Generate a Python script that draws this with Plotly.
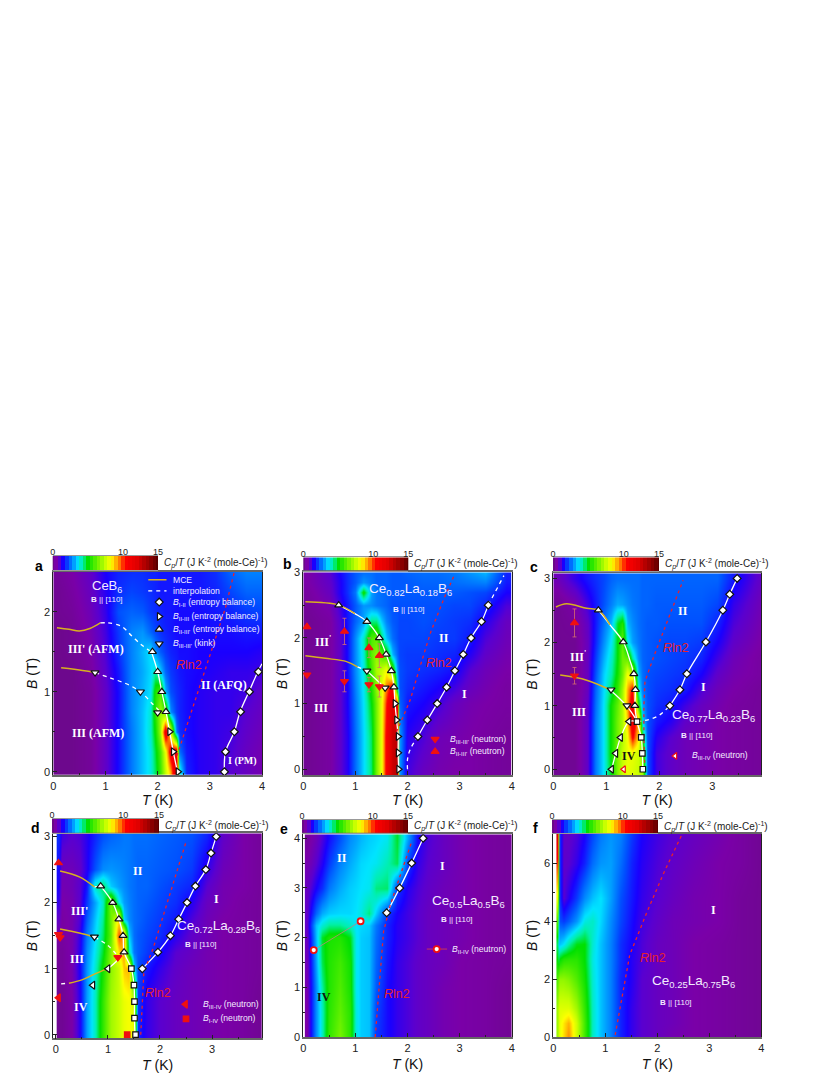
import plotly.graph_objects as go

# colour scale of the C_p/T maps (value, colour)
color_stops = [(0, '#6a0a86'), (0.5, '#7a00a8'), (1, '#5a00d0'), (1.5, '#1a00ff'), (2.2, '#0050ff'),
               (3, '#00a0ff'), (3.6, '#00e4ff'), (4.2, '#00f0a8'), (5, '#00e000'), (6.2, '#60f000'),
               (7.5, '#c8ff00'), (8.3, '#ffff00'), (9, '#ffb000'), (9.7, '#ff6000'), (10.3, '#ff0000'),
               (12, '#e00000'), (13.5, '#a00000'), (15, '#5a0000')]
cbar_levels = [0, 0.5, 1, 1.5, 2, 2.5, 3, 3.5, 4, 4.5, 5, 5.5, 6, 6.5, 7, 7.5, 8, 8.5, 9, 9.5, 10,
               10.5, 11, 11.5, 12, 12.5, 13, 13.5, 14, 14.5, 15]

# panel a: CeB6
T_a = [0.07, 0.35, 0.7, 1.0, 1.25, 1.5, 1.7, 1.85, 1.95, 2.05, 2.15, 2.25, 2.35, 2.42, 2.55, 2.8, 3.1, 3.4, 3.7, 3.98]
B_a = [0, 0.25, 0.5, 0.75, 1, 1.25, 1.5, 1.75, 2, 2.25, 2.5]
Z_a = [
    [0.1, 0.1, 0.3, 0.9, 1.6, 2.6, 3.3, 3.8, 4.6, 5.8, 7.5, 9.0, 12.5, 4.0, 1.8, 1.4, 1.3, 1.0, 0.8, 0.6],
    [0.1, 0.1, 0.3, 0.9, 1.6, 2.6, 3.3, 3.8, 4.8, 6.0, 8.0, 11.0, 11.5, 2.5, 1.7, 1.4, 1.3, 1.1, 0.8, 0.6],
    [0.1, 0.1, 0.3, 0.9, 1.6, 2.6, 3.3, 4.0, 5.2, 7.0, 11.5, 8.0, 2.6, 1.9, 1.6, 1.4, 1.3, 1.2, 0.9, 0.7],
    [0.1, 0.1, 0.3, 0.9, 1.6, 2.7, 3.3, 3.9, 5.6, 7.0, 6.2, 2.8, 2.0, 1.8, 1.6, 1.4, 1.3, 1.3, 1.0, 0.8],
    [0.1, 0.1, 0.3, 0.9, 1.6, 2.7, 3.2, 3.6, 5.4, 6.0, 3.2, 2.2, 1.9, 1.8, 1.6, 1.4, 1.3, 1.3, 1.2, 0.9],
    [0.1, 0.1, 0.4, 1.0, 1.7, 2.7, 3.1, 3.5, 4.2, 3.4, 2.4, 2.0, 1.8, 1.7, 1.6, 1.5, 1.4, 1.3, 1.3, 1.2],
    [0.1, 0.2, 0.5, 1.1, 1.9, 2.7, 3.2, 3.6, 2.8, 2.3, 2.0, 1.8, 1.7, 1.6, 1.6, 1.5, 1.5, 1.5, 1.5, 1.4],
    [0.1, 0.2, 0.6, 1.2, 2.0, 2.7, 2.9, 2.4, 2.1, 1.9, 1.8, 1.7, 1.6, 1.6, 1.6, 1.6, 1.6, 1.6, 1.7, 1.7],
    [0.2, 0.3, 0.7, 1.3, 2.2, 2.4, 2.3, 2.0, 1.9, 1.8, 1.7, 1.7, 1.6, 1.6, 1.6, 1.6, 1.7, 1.8, 2.0, 2.1],
    [0.2, 0.4, 0.8, 1.4, 1.9, 2.1, 2.0, 1.9, 1.8, 1.7, 1.7, 1.7, 1.7, 1.7, 1.7, 1.7, 1.8, 2.1, 2.4, 2.4],
    [0.3, 0.5, 0.9, 1.5, 1.8, 1.9, 1.9, 1.8, 1.8, 1.7, 1.7, 1.7, 1.7, 1.7, 1.7, 1.7, 1.9, 2.4, 2.7, 2.7],
]

# panel b: Ce0.82La0.18B6
T_b = [0.1, 0.5, 0.7, 0.85, 1.0, 1.15, 1.3, 1.4, 1.5, 1.6, 1.7, 1.8, 1.85, 2.0, 2.3, 2.6, 2.9, 3.2, 3.5, 3.9]
B_b = [0, 0.5, 1, 1.25, 1.5, 1.75, 2, 2.25, 2.5, 2.7, 2.85, 3]
Z_b = [
    [0.2, 0.4, 0.9, 1.4, 2.5, 3.5, 4.5, 6.5, 8.0, 10.8, 12.5, 13.0, 3.0, 1.2, 0.8, 0.6, 0.5, 0.5, 0.4, 0.3],
    [0.2, 0.4, 0.9, 1.4, 2.5, 3.5, 4.6, 6.5, 8.0, 10.8, 12.5, 13.0, 3.0, 1.4, 1.1, 0.7, 0.6, 0.5, 0.4, 0.3],
    [0.2, 0.4, 0.9, 1.5, 2.6, 3.6, 5.0, 6.5, 8.0, 10.2, 12.0, 10.0, 2.4, 1.7, 1.5, 1.2, 0.8, 0.6, 0.5, 0.4],
    [0.2, 0.4, 0.9, 1.5, 2.7, 3.7, 5.4, 6.8, 7.8, 9.5, 11.0, 3.5, 2.2, 1.9, 1.7, 1.5, 1.2, 0.8, 0.6, 0.4],
    [0.2, 0.4, 0.9, 1.6, 2.8, 3.8, 5.8, 7.2, 7.5, 8.2, 6.0, 2.8, 2.2, 2.0, 1.9, 1.8, 1.6, 1.0, 0.7, 0.5],
    [0.2, 0.4, 0.9, 1.6, 2.8, 3.9, 6.2, 6.8, 6.0, 5.5, 3.2, 2.4, 2.1, 2.0, 2.0, 1.9, 1.8, 1.4, 0.9, 0.6],
    [0.2, 0.4, 0.9, 1.6, 2.8, 4.0, 6.0, 6.2, 4.5, 3.3, 2.5, 2.2, 2.1, 2.1, 2.1, 2.0, 2.0, 1.7, 1.1, 0.7],
    [0.2, 0.4, 1.0, 1.7, 2.4, 3.0, 4.4, 4.4, 3.4, 2.7, 2.3, 2.2, 2.1, 2.1, 2.2, 2.1, 2.0, 1.9, 1.4, 0.8],
    [0.3, 0.6, 1.2, 1.7, 2.3, 2.9, 2.8, 2.6, 2.5, 2.4, 2.2, 2.2, 2.2, 2.2, 2.2, 2.2, 2.1, 2.1, 1.8, 1.1],
    [0.4, 0.8, 1.4, 1.9, 2.6, 5.2, 3.0, 2.6, 2.5, 2.4, 2.3, 2.3, 2.3, 2.3, 2.3, 2.3, 2.3, 2.2, 2.1, 1.5],
    [0.5, 0.9, 1.4, 1.9, 2.3, 2.9, 2.6, 2.4, 2.4, 2.4, 2.3, 2.3, 2.3, 2.3, 2.4, 2.4, 2.5, 2.6, 2.7, 1.7],
    [0.5, 1.0, 1.5, 1.9, 2.3, 2.5, 2.5, 2.4, 2.4, 2.4, 2.3, 2.3, 2.3, 2.4, 2.5, 2.5, 2.6, 2.9, 3.2, 1.8],
]

# panel c: Ce0.77La0.23B6
T_c = [0.07, 0.4, 0.65, 0.8, 0.95, 1.1, 1.2, 1.3, 1.4, 1.5, 1.6, 1.68, 1.78, 1.95, 2.2, 2.5, 2.8, 3.1, 3.4, 3.88]
B_c = [0, 0.25, 0.5, 0.75, 1, 1.25, 1.5, 1.75, 2, 2.3, 2.6, 3]
Z_c = [
    [0.2, 0.2, 0.9, 2.6, 3.6, 5.0, 6.6, 7.5, 8.0, 7.8, 7.5, 7.0, 2.2, 1.2, 0.9, 0.7, 0.6, 0.5, 0.4, 0.3],
    [0.2, 0.2, 0.9, 2.6, 3.6, 5.2, 6.6, 7.5, 8.0, 8.0, 7.6, 6.5, 2.2, 1.2, 0.9, 0.7, 0.6, 0.5, 0.4, 0.3],
    [0.2, 0.2, 0.9, 2.6, 3.6, 5.2, 6.4, 7.2, 8.2, 10.5, 8.5, 5.0, 2.2, 1.4, 1.0, 0.7, 0.6, 0.5, 0.4, 0.3],
    [0.2, 0.2, 0.9, 2.6, 3.6, 5.2, 6.4, 7.2, 8.8, 11.5, 9.0, 3.5, 2.2, 1.7, 1.4, 0.9, 0.7, 0.5, 0.4, 0.3],
    [0.2, 0.2, 0.9, 2.5, 3.6, 5.2, 6.2, 7.2, 9.2, 11.5, 5.5, 3.0, 2.2, 1.9, 1.7, 1.2, 0.8, 0.6, 0.4, 0.3],
    [0.2, 0.2, 0.8, 2.4, 3.5, 4.6, 5.6, 7.0, 9.0, 10.5, 3.8, 2.6, 2.2, 2.0, 1.9, 1.7, 1.1, 0.7, 0.5, 0.3],
    [0.2, 0.2, 0.8, 2.2, 3.4, 4.2, 5.2, 6.4, 8.2, 7.5, 3.2, 2.5, 2.2, 2.1, 2.0, 1.9, 1.5, 0.9, 0.6, 0.4],
    [0.2, 0.2, 0.8, 2.0, 3.1, 4.0, 5.0, 6.4, 6.2, 4.2, 2.8, 2.4, 2.3, 2.2, 2.1, 2.0, 1.8, 1.2, 0.7, 0.4],
    [0.2, 0.2, 0.8, 1.8, 2.8, 3.7, 5.0, 6.2, 3.8, 3.0, 2.6, 2.4, 2.3, 2.2, 2.1, 2.1, 2.0, 1.5, 0.9, 0.5],
    [0.2, 0.3, 0.9, 1.7, 2.5, 3.3, 4.8, 5.4, 3.2, 2.8, 2.5, 2.4, 2.3, 2.3, 2.2, 2.2, 2.2, 1.8, 1.1, 0.6],
    [0.2, 0.5, 1.2, 1.7, 2.2, 2.7, 3.1, 3.0, 2.8, 2.6, 2.5, 2.4, 2.4, 2.3, 2.3, 2.3, 2.3, 2.1, 1.3, 0.7],
    [0.7, 1.3, 1.7, 1.9, 2.1, 2.4, 2.5, 2.5, 2.5, 2.5, 2.5, 2.4, 2.4, 2.4, 2.4, 2.4, 2.4, 2.4, 1.7, 0.9],
]

# panel d: Ce0.72La0.28B6
T_d = [0.05, 0.12, 0.3, 0.45, 0.6, 0.75, 0.9, 1.05, 1.2, 1.3, 1.4, 1.5, 1.58, 1.75, 2.0, 2.3, 2.6, 2.9, 3.2, 3.6, 3.95]
B_d = [0, 0.5, 1, 1.25, 1.5, 1.75, 2, 2.25, 2.5, 3]
Z_d = [
    [0.2, 0.2, 0.5, 1.4, 3.0, 4.0, 5.6, 7.0, 7.5, 8.0, 8.2, 8.0, 1.8, 1.3, 1.0, 0.8, 0.7, 0.6, 0.5, 0.4, 0.2],
    [0.2, 0.2, 0.5, 1.4, 3.0, 4.0, 5.6, 7.0, 7.5, 8.0, 8.2, 7.6, 2.0, 1.3, 1.0, 0.8, 0.7, 0.6, 0.5, 0.4, 0.2],
    [0.3, 0.3, 0.6, 1.5, 2.9, 3.9, 5.2, 6.8, 7.5, 8.8, 9.0, 3.5, 2.2, 1.7, 1.3, 0.9, 0.7, 0.6, 0.5, 0.4, 0.3],
    [0.3, 0.3, 0.6, 1.4, 2.8, 3.7, 4.8, 6.6, 8.5, 9.2, 4.2, 2.6, 2.3, 2.0, 1.6, 1.0, 0.8, 0.6, 0.5, 0.4, 0.3],
    [0.5, 0.4, 0.6, 1.3, 2.6, 3.5, 4.5, 6.2, 9.8, 9.2, 3.4, 2.5, 2.3, 2.1, 1.9, 1.4, 0.9, 0.7, 0.5, 0.4, 0.3],
    [0.9, 0.4, 0.6, 1.1, 2.3, 3.3, 4.3, 6.4, 8.5, 3.5, 2.8, 2.5, 2.4, 2.2, 2.0, 1.7, 1.1, 0.7, 0.5, 0.4, 0.3],
    [1.3, 0.5, 0.6, 1.0, 2.0, 3.0, 4.0, 6.5, 3.8, 3.0, 2.7, 2.5, 2.4, 2.3, 2.1, 1.9, 1.4, 0.8, 0.6, 0.4, 0.3],
    [1.5, 0.6, 0.7, 1.0, 1.7, 4.0, 4.6, 3.4, 3.0, 2.8, 2.6, 2.5, 2.4, 2.4, 2.2, 2.0, 1.8, 1.0, 0.6, 0.5, 0.3],
    [1.6, 0.7, 0.7, 0.9, 1.4, 2.2, 2.8, 2.9, 2.8, 2.7, 2.6, 2.5, 2.4, 2.4, 2.3, 2.2, 2.0, 1.3, 0.7, 0.5, 0.3],
    [1.9, 1.2, 1.0, 1.1, 1.4, 1.8, 2.2, 2.4, 2.5, 2.6, 2.6, 2.5, 2.5, 2.5, 2.4, 2.3, 2.2, 1.8, 0.9, 0.5, 0.3],
]

# panel e: Ce0.5La0.5B6
T_e = [0.07, 0.15, 0.25, 0.35, 0.5, 0.7, 0.9, 1.0, 1.1, 1.25, 1.4, 1.6, 1.8, 2.0, 2.2, 2.4, 2.7, 3.0, 3.5, 4.0]
B_e = [0, 0.5, 1, 1.5, 2, 2.25, 2.5, 3, 3.5, 4]
Z_e = [
    [0.5, 1.6, 2.8, 4.0, 5.6, 6.5, 5.5, 3.8, 3.4, 3.3, 2.0, 1.6, 1.3, 1.1, 0.9, 0.8, 0.6, 0.5, 0.4, 0.2],
    [0.5, 1.6, 2.8, 4.0, 5.5, 6.2, 5.5, 3.8, 3.4, 3.3, 2.1, 1.6, 1.3, 1.1, 0.9, 0.8, 0.6, 0.5, 0.4, 0.2],
    [0.6, 1.6, 2.8, 4.2, 5.4, 6.0, 5.3, 3.7, 3.4, 3.3, 2.3, 1.6, 1.3, 1.1, 0.9, 0.8, 0.6, 0.5, 0.4, 0.2],
    [0.7, 1.7, 3.0, 4.6, 5.4, 5.8, 5.2, 3.7, 3.4, 3.3, 2.4, 1.7, 1.3, 1.1, 0.9, 0.8, 0.7, 0.5, 0.4, 0.3],
    [0.8, 1.8, 3.2, 4.8, 5.3, 5.4, 4.9, 3.7, 3.4, 3.3, 2.5, 1.8, 1.4, 1.2, 1.0, 0.8, 0.7, 0.6, 0.4, 0.3],
    [0.9, 2.0, 3.3, 3.9, 4.3, 4.3, 4.0, 3.6, 3.5, 3.4, 2.6, 1.8, 1.4, 1.2, 1.0, 0.8, 0.7, 0.6, 0.4, 0.3],
    [0.9, 1.6, 2.4, 3.1, 3.4, 3.5, 3.5, 3.6, 3.8, 4.4, 3.4, 2.0, 1.5, 1.2, 1.0, 0.8, 0.7, 0.6, 0.4, 0.3],
    [0.8, 1.1, 1.5, 1.9, 2.6, 3.1, 3.4, 3.5, 3.6, 3.7, 4.4, 4.5, 2.0, 1.4, 1.1, 0.9, 0.7, 0.6, 0.4, 0.3],
    [0.6, 0.7, 1.0, 1.4, 2.0, 2.7, 3.1, 3.3, 3.5, 3.6, 3.7, 4.1, 4.6, 2.0, 1.3, 1.0, 0.8, 0.6, 0.4, 0.3],
    [0.3, 0.5, 0.7, 1.1, 1.6, 2.2, 2.8, 3.0, 3.2, 3.4, 3.5, 3.7, 4.8, 3.0, 1.5, 1.1, 0.8, 0.6, 0.4, 0.3],
]

# panel f: Ce0.25La0.75B6
T_f = [0.07, 0.09, 0.12, 0.2, 0.3, 0.45, 0.6, 0.75, 0.9, 1.1, 1.3, 1.5, 1.7, 2.0, 2.3, 2.7, 3.2, 3.6, 4.0]
B_f = [0, 0.5, 1, 2, 2.7, 3.2, 4, 4.8, 6, 7]
Z_f = [
    [7.0, 7.5, 8.0, 8.6, 9.3, 7.6, 5.8, 4.0, 3.3, 2.7, 1.8, 1.3, 1.0, 0.8, 0.6, 0.5, 0.4, 0.3, 0.2],
    [7.0, 7.5, 8.0, 8.5, 9.0, 7.6, 5.8, 4.0, 3.3, 2.7, 1.8, 1.3, 1.0, 0.8, 0.7, 0.5, 0.4, 0.3, 0.2],
    [7.0, 7.5, 7.8, 7.8, 7.8, 7.0, 5.6, 4.0, 3.3, 2.7, 1.8, 1.3, 1.0, 0.8, 0.7, 0.5, 0.4, 0.3, 0.2],
    [6.0, 6.5, 6.8, 6.8, 6.6, 6.0, 5.2, 3.9, 3.3, 2.7, 1.8, 1.4, 1.0, 0.8, 0.7, 0.5, 0.4, 0.3, 0.2],
    [5.0, 4.5, 5.0, 5.4, 5.5, 5.5, 5.0, 3.8, 3.3, 2.7, 1.9, 1.4, 1.1, 0.8, 0.7, 0.5, 0.4, 0.3, 0.2],
    [4.5, 3.5, 3.3, 3.6, 4.2, 4.9, 5.0, 3.9, 3.3, 2.7, 1.9, 1.5, 1.1, 0.8, 0.7, 0.5, 0.4, 0.3, 0.2],
    [6.0, 4.0, 2.2, 2.0, 2.3, 2.9, 3.8, 4.0, 3.5, 2.8, 2.1, 1.6, 1.2, 0.9, 0.7, 0.6, 0.5, 0.3, 0.2],
    [8.0, 5.0, 2.0, 1.0, 1.4, 2.0, 2.8, 3.3, 3.6, 3.0, 2.2, 1.7, 1.3, 1.0, 0.8, 0.6, 0.5, 0.3, 0.2],
    [10.0, 6.0, 2.0, 0.9, 1.0, 1.3, 1.8, 2.5, 2.9, 3.0, 2.5, 1.8, 1.4, 1.1, 0.9, 0.7, 0.5, 0.4, 0.2],
    [12.0, 7.0, 2.0, 0.9, 0.9, 1.1, 1.5, 2.1, 2.6, 2.9, 2.7, 2.0, 1.5, 1.2, 1.0, 0.8, 0.6, 0.4, 0.2],
]

# phase boundaries: (T, B)
a_mce = [([0.07, 0.3, 0.5, 0.7, 0.9], [1.8, 1.78, 1.76, 1.79, 1.86]), ([0.15, 0.4, 0.8], [1.3, 1.28, 1.24])]
a_dash = [([0.9, 1.05, 1.3, 1.5, 1.7, 1.88], [1.86, 1.86, 1.82, 1.7, 1.58, 1.5]),
          ([0.8, 1.1, 1.4, 1.67, 1.9, 2.05], [1.24, 1.17, 1.1, 1.0, 0.85, 0.75])]
a_solid = [([1.88, 2.0, 2.08, 2.16, 2.23, 2.3, 2.38], [1.5, 1.25, 1.0, 0.75, 0.5, 0.25, 0]),
           ([3.28, 3.3, 3.47, 3.58, 3.75, 3.92, 4.0], [0, 0.25, 0.5, 0.75, 1.0, 1.25, 1.35])]
a_rln2 = ([2.37, 2.6, 2.85, 3.1, 3.3, 3.47], [0.2, 0.65, 1.15, 1.65, 2.05, 2.5])

b_mce = [([0.04, 0.68, 0.99], [2.55, 2.5, 2.37]), ([0.04, 0.42, 0.83, 1.04], [1.73, 1.69, 1.64, 1.56])]
b_dash = [([1.04, 1.22], [1.56, 1.5]), ([2.0, 2.0, 2.05, 2.2], [0, 0.15, 0.3, 0.5]), ([3.55, 3.85], [2.5, 2.95])]
b_solid = [([0.68, 0.99, 1.22, 1.46, 1.59, 1.69, 1.74, 1.76, 1.79, 1.82, 1.82, 1.83],
            [2.5, 2.37, 2.25, 2.0, 1.75, 1.5, 1.25, 1.0, 0.75, 0.5, 0.25, 0]),
           ([1.22, 1.57], [1.5, 1.24]),
           ([2.2, 2.38, 2.57, 2.75, 2.91, 3.07, 3.22, 3.42, 3.55], [0.5, 0.75, 1.0, 1.25, 1.5, 1.75, 2.0, 2.25, 2.5])]
b_rln2 = ([1.79, 2.05, 2.27, 2.45, 2.7, 2.9], [0.57, 1.05, 1.64, 2.1, 2.6, 2.96])

c_mce = [([0.05, 0.25, 0.63, 0.85, 1.07], [2.55, 2.6, 2.53, 2.5, 2.27]), ([0.13, 0.63, 1.07], [1.48, 1.4, 1.25])]
c_dash = [([1.58, 1.8, 2.0, 2.2], [0.75, 0.78, 0.85, 1.0])]
c_solid = [([0.85, 1.07, 1.32, 1.45, 1.52, 1.55, 1.54, 1.58, 1.66, 1.68, 1.69],
            [2.5, 2.27, 2.0, 1.7, 1.5, 1.25, 1.0, 0.75, 0.5, 0.25, 0]),
           ([1.07, 1.38, 1.58], [1.25, 1.0, 0.76]),
           ([1.58, 1.43, 1.27, 1.18, 1.1], [0.75, 0.75, 0.5, 0.25, 0]),
           ([2.2, 2.39, 2.52, 2.88, 3.2, 3.33, 3.47], [1.0, 1.25, 1.5, 2.0, 2.5, 2.75, 3.0])]
c_rln2 = ([1.73, 1.71, 1.71, 1.73, 1.9, 2.08, 2.3, 2.45], [0, 0.5, 1.0, 1.38, 1.78, 2.16, 2.65, 2.97])

d_mce = [([0.08, 0.45, 0.74], [2.48, 2.39, 2.24]), ([0.08, 0.45, 0.74], [1.6, 1.54, 1.48]),
         ([0.25, 0.5, 0.75, 1.0], [0.78, 0.83, 0.92, 1.0])]
d_dash = [([0.74, 1.0, 1.2], [1.48, 1.35, 1.18]), ([0.1, 0.25], [0.77, 0.78])]
d_solid = [([0.86, 1.09, 1.21, 1.29, 1.31, 1.45, 1.5, 1.51, 1.51, 1.52], [2.25, 2.0, 1.75, 1.5, 1.25, 1.0, 0.75, 0.5, 0.25, 0]),
           ([1.0, 1.15, 1.31], [1.0, 1.1, 1.25]),
           ([0.74, 0.86], [2.24, 2.25]),
           ([1.66, 1.96, 2.2, 2.36, 2.52, 2.68, 2.88, 2.98, 3.08], [1.0, 1.25, 1.5, 1.75, 2.0, 2.25, 2.5, 2.75, 3.0])]
d_rln2 = ([1.63, 1.69, 1.87, 2.15, 2.5], [0, 0.95, 1.31, 2.02, 2.92])

e_solid = [([1.6, 1.85, 2.08, 2.3], [2.5, 3.0, 3.5, 4.0])]
e_rln2 = ([1.38, 1.45, 1.54, 1.67, 1.92, 2.08], [0, 0.9, 2.12, 2.66, 3.43, 3.93])

f_rln2 = ([1.19, 1.47, 1.8, 2.12, 2.47], [0.07, 2.83, 4.3, 5.64, 6.97])

# open symbols: boundaries from entropy balance and kinks
a_diamond = ([3.28, 3.3, 3.47, 3.59, 3.76, 3.93], [0, 0.25, 0.5, 0.75, 1.0, 1.25])
a_right = ([2.39, 2.3, 2.23], [0, 0.25, 0.5])
a_up = ([2.16, 2.08, 2.0, 1.9], [0.75, 1.0, 1.25, 1.5])
a_down = ([0.8, 1.67, 2.0], [1.24, 1.0, 0.74])

b_diamond = ([2.2, 2.38, 2.57, 2.75, 2.91, 3.07, 3.22, 3.42, 3.55], [0.5, 0.75, 1.0, 1.25, 1.5, 1.75, 2.0, 2.25, 2.5])
b_right = ([1.83, 1.82, 1.82, 1.79, 1.76], [0, 0.25, 0.5, 0.75, 1.0])
b_up = ([1.74, 1.69, 1.59, 1.46, 1.22, 0.68], [1.25, 1.5, 1.75, 2.0, 2.25, 2.5])
b_down = ([1.22, 1.57], [1.5, 1.24])

c_diamond = ([2.2, 2.39, 2.52, 2.88, 3.2, 3.33, 3.47], [1.0, 1.25, 1.5, 2.0, 2.5, 2.75, 3.0])
c_up = ([0.85, 1.32, 1.52, 1.55, 1.54], [2.5, 2.0, 1.5, 1.25, 1.0])
c_down = ([1.09, 1.39], [1.25, 1.0])
c_left = ([1.1, 1.18, 1.27, 1.43], [0, 0.25, 0.5, 0.75])
c_square = ([1.69, 1.68, 1.66, 1.58], [0, 0.25, 0.5, 0.75])

d_diamond = ([1.66, 1.96, 2.2, 2.36, 2.52, 2.68, 2.88, 2.98, 3.08], [1.0, 1.25, 1.5, 1.75, 2.0, 2.25, 2.5, 2.75, 3.0])
d_up = ([0.86, 1.09, 1.21, 1.29, 1.31], [2.25, 2.0, 1.75, 1.5, 1.25])
d_down = ([0.74], [1.48])
d_left = ([1.0, 0.71], [1.0, 0.75])
d_square = ([1.45, 1.5, 1.51, 1.51, 1.53], [1.0, 0.75, 0.5, 0.25, 0])

e_diamond = ([1.6, 1.85, 2.08, 2.3], [2.5, 3.0, 3.5, 4.0])

# neutron points: T, B, B error
b_n_down = ([0.07, 0.79, 1.26, 1.46], [1.44, 1.34, 1.29, 1.26], [0, 0.16, 0.11, 0.16])
b_n_up = ([0.07, 0.79, 1.26, 1.46], [2.17, 2.1, 1.85, 1.73], [0, 0.2, 0.15, 0.18])
c_n_up = ([0.4], [2.3], [0.22])
c_n_down = ([0.4], [1.47], [0.13])
c_n_left = ([1.33], [0])
d_n_up = ([0.05], [2.6])
d_n_down = ([0.05, 0.08, 1.19], [1.52, 1.47, 1.17])
d_n_left = ([0.05], [0.56])
d_n_square = ([1.37], [0])
e_n_ring = ([0.2, 1.1], [1.75, 2.33])

# panel setup, pixel boxes are left, right, top, bottom
panels = [
    dict(tag='a', T=T_a, B=B_a, Z=Z_a, box=(53.3, 262, 571.7, 775), xr=[0, 4], yr=[-0.04, 2.5], xt=[0, 1, 2, 3, 4],
         yt=[0, 1, 2], ym=0.5, cbar=(52.7, 158, 556, 570), letter=(39, 566), xoff=4),
    dict(tag='b', T=T_b, B=B_b, Z=Z_b, box=(303.3, 511.7, 572.3, 775), xr=[0, 4], yr=[-0.087, 3], xt=[0, 1, 2, 3, 4],
         yt=[0, 1, 2, 3], ym=0.5, cbar=(303.3, 408.3, 557.3, 570.7), letter=(287, 564), xoff=4),
    dict(tag='c', T=T_c, B=B_c, Z=Z_c, box=(553.3, 761, 573.3, 775), xr=[0, 3.92], yr=[-0.09, 3.08], xt=[0, 1, 2, 3],
         yt=[0, 1, 2, 3], ym=0.5, cbar=(553, 659, 557.3, 571), letter=(534, 567), xoff=4),
    dict(tag='d', T=T_d, B=B_d, Z=Z_d, box=(53.3, 262, 833.3, 1038.3), xr=[-0.05, 3.96], yr=[-0.055, 3.05], xt=[0, 1, 2, 3],
         yt=[0, 1, 2, 3], ym=0.5, cbar=(52, 159, 819, 832.7), letter=(35, 828), xoff=6),
    dict(tag='e', T=T_e, B=B_e, Z=Z_e, box=(303.3, 511.7, 834.3, 1037), xr=[0, 4], yr=[0, 4.08], xt=[0, 1, 2, 3, 4],
         yt=[0, 1, 2, 3, 4], ym=0.5, cbar=(302, 408, 820, 832.7), letter=(284, 829), xoff=6),
    dict(tag='f', T=T_f, B=B_f, Z=Z_f, box=(553.3, 761.3, 834, 1037), xr=[0, 4], yr=[0, 7], xt=[0, 1, 2, 3, 4],
         yt=[0, 2, 4, 6], ym=1, cbar=(552, 658, 820, 833), letter=(535, 828), xoff=6),
]

W, H = 830, 1075
SANS = 'Liberation Sans'
SERIF = 'Liberation Serif'
WHITEISH = '#f4ecff'
fig = go.Figure()
notes = []


def px_x(a, b):
    return [a / W, b / W]


def px_y(top, bottom):
    return [1 - bottom / H, 1 - top / H]


def line(i, data, color, width=1.3, dash='solid', shape='spline'):
    fig.add_trace(go.Scatter(x=data[0], y=data[1], mode='lines', xaxis=f'x{i}', yaxis=f'y{i}', showlegend=False,
                             line=dict(color=color, width=width, dash=dash, shape=shape), hoverinfo='skip'))


def points(i, data, symbol, fill='white', edge='#111111', size=7, ew=1.2, err=False):
    error_y = dict(type='data', array=data[2], color='#d87070', thickness=0.8, width=2) if err else None
    fig.add_trace(go.Scatter(x=data[0], y=data[1], mode='markers', xaxis=f'x{i}', yaxis=f'y{i}', showlegend=False,
                             marker=dict(symbol=symbol, color=fill, size=size, line=dict(color=edge, width=ew)),
                             error_y=error_y, hoverinfo='skip'))


def text(i, t, b, s, size=11, color=WHITEISH, family=SANS, anchor='center'):
    notes.append(dict(x=t, y=b, xref=f'x{i}', yref=f'y{i}', text=s, showarrow=False, xanchor=anchor, yanchor='middle',
                      font=dict(size=size, color=color, family=family)))


def rln2(i, data, t, b):
    line(i, data, '#e8202c', width=1.3, dash='3px,3.5px', shape='linear')
    text(i, t, b, '<i>R</i>ln2', size=12.5, color='#e8202c')


def roman(i, t, b, s, size=12, color='white'):
    text(i, t, b, f'<b>{s}</b>', size=size, color=color, family=SERIF)


colorscale = [[v / 15, c] for v, c in color_stops]

# maps first, everything else goes over them
for n, p in enumerate(panels, start=1):
    fig.add_trace(go.Heatmap(x=p['T'], y=p['B'], z=p['Z'], xaxis=f'x{n}', yaxis=f'y{n}', coloraxis='coloraxis',
                             zsmooth='best', hoverinfo='skip'))
    fig.add_trace(go.Heatmap(x=cbar_levels, y=[0], z=[cbar_levels], xaxis=f'x{n + 6}', yaxis=f'y{n + 6}',
                             coloraxis='coloraxis', hoverinfo='skip'))

for i, mce, dash, solid in [(1, a_mce, a_dash, a_solid), (2, b_mce, b_dash, b_solid), (3, c_mce, c_dash, c_solid),
                            (4, d_mce, d_dash, d_solid), (5, [], [], e_solid), (6, [], [], [])]:
    for s in solid:
        line(i, s, 'white', width=1.3)
    for s in dash:
        line(i, s, 'white', width=1.3, dash='4px,4px')
    for s in mce:
        line(i, s, '#d8b020', width=1.5)

rln2(1, a_rln2, 2.61, 1.34)
rln2(2, b_rln2, 2.6, 1.62)
rln2(3, c_rln2, 2.31, 1.91)
rln2(4, d_rln2, 1.97, 0.63)
rln2(5, e_rln2, 1.79, 0.86)
rln2(6, f_rln2, 1.92, 2.74)

DIA = 6
points(1, a_diamond, 'diamond', size=DIA)
points(1, a_right, 'triangle-right')
points(1, a_up, 'triangle-up')
points(1, a_down, 'triangle-down')
points(2, b_diamond, 'diamond', size=DIA)
points(2, b_right, 'triangle-right')
points(2, b_up, 'triangle-up')
points(2, b_down, 'triangle-down')
points(2, b_n_down, 'triangle-down', fill='#f01010', edge='#f01010', size=7, err=True)
points(2, b_n_up, 'triangle-up', fill='#f01010', edge='#f01010', size=7, err=True)
points(3, c_diamond, 'diamond', size=DIA)
points(3, c_up, 'triangle-up')
points(3, c_down, 'triangle-down')
points(3, c_left, 'triangle-left')
points(3, c_square, 'square', size=5.5)
points(3, c_n_up, 'triangle-up', fill='#f01010', edge='#f01010', err=True)
points(3, c_n_down, 'triangle-down', fill='#f01010', edge='#f01010', err=True)
points(3, c_n_left, 'triangle-left', edge='#f01010', size=6)
points(4, d_diamond, 'diamond', size=DIA)
points(4, d_up, 'triangle-up')
points(4, d_down, 'triangle-down')
points(4, d_left, 'triangle-left')
points(4, d_square, 'square', size=5.5)
points(4, d_n_up, 'triangle-up', fill='#f01010', edge='#f01010')
points(4, d_n_down, 'triangle-down', fill='#f01010', edge='#f01010')
points(4, d_n_left, 'triangle-left', fill='#f01010', edge='#f01010')
points(4, d_n_square, 'square', fill='#f01010', edge='#f01010', size=5.5)
points(5, e_diamond, 'diamond', size=DIA)
line(5, e_n_ring, '#c08080', width=0.8)
points(5, e_n_ring, 'circle', fill='white', edge='#f01010', size=6, ew=1.8)

# legend of panel a, drawn inside the plot area like the original
line(1, ([1.82, 2.17], [2.4, 2.4]), '#d8b020', width=1.5)
line(1, ([1.82, 2.17], [2.26, 2.26]), 'white', width=1.3, dash='4px,4px')
points(1, ([2.03], [2.12]), 'diamond', size=DIA)
points(1, ([2.03], [1.94]), 'triangle-right')
points(1, ([2.03], [1.78]), 'triangle-up')
points(1, ([2.03], [1.6]), 'triangle-down')
LEG = 8.6
text(1, 2.26, 2.4, 'MCE', LEG, anchor='left')
text(1, 2.26, 2.26, 'interpolation', LEG, anchor='left')
text(1, 2.26, 2.12, '<i>B</i><sub>I-II</sub> (entropy balance)', LEG, anchor='left')
text(1, 2.26, 1.94, "<i>B</i><sub>II-III</sub> (entropy balance)", LEG, anchor='left')
text(1, 2.26, 1.78, "<i>B</i><sub>II-III'</sub> (entropy balance)", LEG, anchor='left')
text(1, 2.26, 1.6, "<i>B</i><sub>III-III'</sub> (kink)", LEG, anchor='left')

points(2, ([2.53], [0.46]), 'triangle-down', fill='#f01010', edge='#f01010')
points(2, ([2.53], [0.27]), 'triangle-up', fill='#f01010', edge='#f01010')
text(2, 2.78, 0.46, "<i>B</i><sub>III-III'</sub> (neutron)", LEG, anchor='left')
text(2, 2.78, 0.27, "<i>B</i><sub>II-III'</sub> (neutron)", LEG, anchor='left')
points(3, ([2.3], [0.21]), 'triangle-left', edge='#f01010', size=6)
text(3, 2.58, 0.21, '<i>B</i><sub>III-IV</sub> (neutron)', LEG, anchor='left')
points(4, ([2.49], [0.46]), 'triangle-left', fill='#f01010', edge='#f01010')
points(4, ([2.5], [0.24]), 'square', fill='#f01010', edge='#f01010', size=5.5)
text(4, 2.78, 0.46, '<i>B</i><sub>III-IV</sub> (neutron)', LEG, anchor='left')
text(4, 2.78, 0.24, '<i>B</i><sub>I-IV</sub> (neutron)', LEG, anchor='left')
line(5, ([2.37, 2.76], [1.77, 1.77]), '#e04040', width=0.8)
points(5, ([2.56], [1.77]), 'circle', fill='white', edge='#f01010', size=6, ew=1.8)
text(5, 2.82, 1.77, '<i>B</i><sub>II-IV</sub> (neutron)', LEG, anchor='left')

# compositions and field direction
FIELD = '<b>B</b> || [110]'
text(1, 1.02, 2.32, 'CeB<sub>6</sub>', 13)
text(1, 1.02, 2.15, FIELD, 8)
text(2, 2.05, 2.74, 'Ce<sub>0.82</sub>La<sub>0.18</sub>B<sub>6</sub>', 13.5)
text(2, 2.02, 2.44, FIELD, 8)
text(3, 3.02, 0.84, 'Ce<sub>0.77</sub>La<sub>0.23</sub>B<sub>6</sub>', 13.5)
text(3, 2.72, 0.53, FIELD, 8)
text(4, 3.13, 1.64, 'Ce<sub>0.72</sub>La<sub>0.28</sub>B<sub>6</sub>', 13.5)
text(4, 2.78, 1.37, FIELD, 8)
text(5, 3.17, 2.72, 'Ce<sub>0.5</sub>La<sub>0.5</sub>B<sub>6</sub>', 13.5)
text(5, 2.95, 2.36, FIELD, 8)
text(6, 2.69, 1.93, 'Ce<sub>0.25</sub>La<sub>0.75</sub>B<sub>6</sub>', 13.5)
text(6, 2.36, 1.2, FIELD, 8)

# phase labels
roman(1, 0.82, 1.53, "III' (AFM)")
roman(1, 0.85, 0.49, 'III (AFM)')
roman(1, 3.28, 1.08, 'II (AFQ)')
roman(1, 3.63, 0.14, 'I (PM)', 10)
roman(2, 0.37, 1.95, "III<sup>'</sup>")
roman(2, 0.34, 0.93, 'III')
roman(2, 2.7, 2.0, 'II')
roman(2, 3.1, 1.15, 'I')
roman(3, 0.47, 1.78, "III<sup>'</sup>")
roman(3, 0.49, 0.9, 'III')
roman(3, 1.43, 0.21, 'IV', color='#111111')
roman(3, 2.44, 2.49, 'II')
roman(3, 2.84, 1.29, 'I')
roman(4, 0.45, 1.87, "III'")
roman(4, 0.4, 1.15, 'III')
roman(4, 0.49, 0.42, 'IV')
roman(4, 1.58, 2.48, 'II')
roman(4, 3.08, 2.06, 'I')
roman(5, 0.74, 3.6, 'II')
roman(5, 2.67, 3.44, 'I')
roman(5, 0.4, 0.8, 'IV', color='#111111')
roman(6, 3.08, 4.37, 'I')

# axes, colour bars and the texts that sit around them
layout_axes = {}
for n, p in enumerate(panels, start=1):
    left, right, top, bottom = p['box']
    common = dict(ticks='inside', ticklen=4, tickcolor='#222222', showline=True, mirror=True, showgrid=False,
                  zeroline=False, automargin=False, tickfont=dict(size=11, family=SANS, color='#222222'))
    layout_axes[f'xaxis{n}'] = dict(domain=px_x(left, right), range=p['xr'], anchor=f'y{n}', tickvals=p['xt'],
                                    linecolor='#666666', linewidth=1.5,
                                    minor=dict(ticks='inside', ticklen=2, dtick=0.5, tick0=0, tickcolor='#222222', showgrid=False),
                                    title=dict(text='<i>T</i> (K)', standoff=p['xoff'], font=dict(size=14, family=SANS, color='#111111')),
                                    **common)
    layout_axes[f'yaxis{n}'] = dict(domain=px_y(top, bottom), range=p['yr'], anchor=f'x{n}', tickvals=p['yt'],
                                    linecolor='#222222', linewidth=1,
                                    minor=dict(ticks='inside', ticklen=2, dtick=p['ym'], tick0=0, tickcolor='#222222', showgrid=False),
                                    title=dict(text='<i>B</i> (T)', standoff=3, font=dict(size=14, family=SANS, color='#111111')),
                                    **common)
    c_left, c_right, c_top, c_bottom = p['cbar']
    layout_axes[f'xaxis{n + 6}'] = dict(domain=px_x(c_left, c_right), range=[0, 15], anchor=f'y{n + 6}', side='top',
                                        tickvals=[0, 10, 15], ticks='', ticklen=0, showgrid=False, zeroline=False,
                                        showline=True, mirror=True, linecolor='#999999', linewidth=1,
                                        ticklabelstandoff=-4, automargin=False,
                                        tickfont=dict(size=9, family=SANS, color='#222222'))
    layout_axes[f'yaxis{n + 6}'] = dict(domain=px_y(c_top, c_bottom), range=[-0.5, 0.5], anchor=f'x{n + 6}',
                                        showticklabels=False, ticks='', showgrid=False, zeroline=False, automargin=False)
    notes.append(dict(x=(c_right + 3.5) / W, y=1 - (c_top + c_bottom) / 2 / H, xref='paper', yref='paper', showarrow=False,
                      xanchor='left', yanchor='middle',
                      text='<i>C</i><sub><i>p</i></sub>/<i>T</i> (J K<sup>-2</sup> (mole-Ce)<sup>-1</sup>)',
                      font=dict(size=10, family=SANS, color='#222222')))
    notes.append(dict(x=p['letter'][0] / W, y=1 - p['letter'][1] / H, xref='paper', yref='paper', showarrow=False,
                      xanchor='center', yanchor='middle', text=f"<b>{p['tag']}</b>",
                      font=dict(size=14, family=SANS, color='black')))

fig.update_layout(
    width=W, height=H, margin=dict(l=0, r=0, t=0, b=0), autosize=False,
    plot_bgcolor='white', paper_bgcolor='white', showlegend=False,
    coloraxis=dict(colorscale=colorscale, cmin=0, cmax=15, showscale=False),
    annotations=notes, **layout_axes,
)
fig.write_html("out.html", config=dict(displayModeBar=False),
               post_script="document.body.style.margin='0';document.documentElement.style.overflow='hidden';")
